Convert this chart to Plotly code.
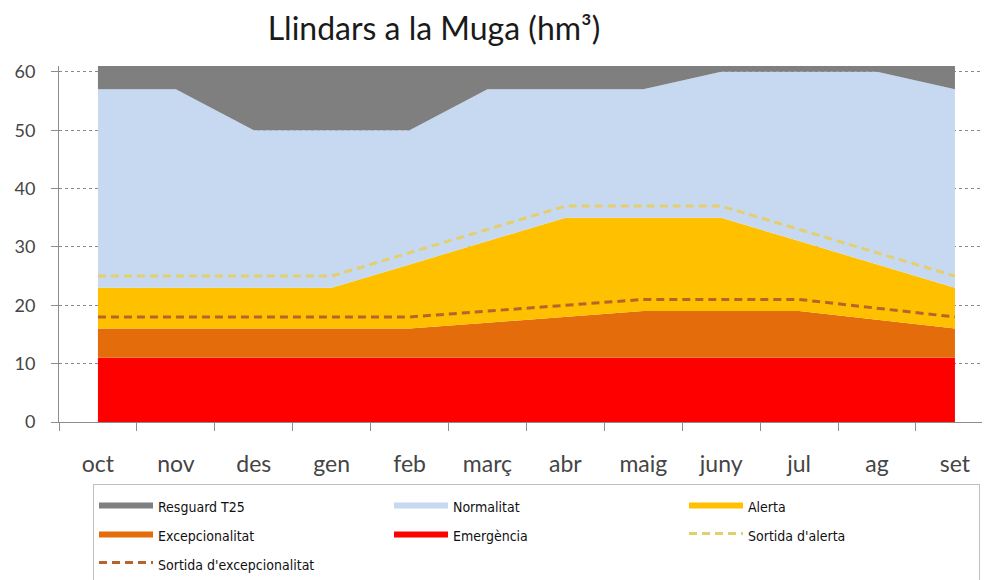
import plotly.graph_objects as go

categories = ['oct', 'nov', 'des', 'gen', 'feb', 'març', 'abr', 'maig', 'juny', 'jul', 'ag', 'set']
emergencia_top = [11, 11, 11, 11, 11, 11, 11, 11, 11, 11, 11, 11]
excepcionalitat_top = [16, 16, 16, 16, 16, 17, 18, 19, 19, 19, 17.5, 16]
alerta_top = [23, 23, 23, 23, 27, 31, 35, 35, 35, 31, 27, 23]
normalitat_top = [57, 57, 50, 50, 50, 57, 57, 57, 60, 60, 60, 57]
resguard_top = [61, 61, 61, 61, 61, 61, 61, 61, 61, 61, 61, 61]
sortida_alerta = [25, 25, 25, 25, 29, 33, 37, 37, 37, 33, 29, 25]
sortida_excepcionalitat = [18, 18, 18, 18, 18, 19, 20, 21, 21, 21, 19.5, 18]
y_ticks = [0, 10, 20, 30, 40, 50, 60]

LEG_SPAN = '<span style="font-size:14px">{}</span>'

fig = go.Figure()

areas = [
    ("Emergència", emergencia_top, "#ff0000", 5, "tozeroy"),
    ("Excepcionalitat", excepcionalitat_top, "#e46c0a", 4, "tonexty"),
    ("Alerta", alerta_top, "#ffc000", 3, "tonexty"),
    ("Normalitat", normalitat_top, "#c6d9f1", 2, "tonexty"),
    ("Resguard T25", resguard_top, "#7f7f7f", 1, "tonexty"),
]
for name, vals, color, rank, fill in areas:
    fig.add_trace(go.Scatter(
        x=categories, y=vals, name=LEG_SPAN.format(name), mode="lines", fill=fill,
        fillcolor=color, line=dict(width=0, color=color),
        legendrank=rank, hoverinfo="skip"))

fig.add_trace(go.Scatter(
    x=categories, y=sortida_alerta, name=LEG_SPAN.format("Sortida d'alerta"), mode="lines",
    line=dict(color="#e3cf6e", width=3, dash="8px,5px"), legendrank=6, hoverinfo="skip"))
fig.add_trace(go.Scatter(
    x=categories, y=sortida_excepcionalitat, name=LEG_SPAN.format("Sortida d'excepcionalitat"),
    mode="lines", line=dict(color="#b5652c", width=3, dash="8px,5px"), legendrank=7,
    hoverinfo="skip"))

# page body has an 8px default margin, compensate in figure margins
fig.update_layout(
    width=990, height=580,
    margin=dict(l=51, r=8, t=58, b=166, autoexpand=False),
    paper_bgcolor="white", plot_bgcolor="white",
    title=dict(text="Llindars a la Muga (hm³)", x=426 / 990, xref="container",
               xanchor="center", y=1 - 21 / 580, yref="container", yanchor="middle",
               font=dict(family="Lato, Open Sans, sans-serif", size=32, color="#1a1a1a")),
    showlegend=True,
    legend=dict(orientation="h", x=(93 - 59) / 931, xanchor="left", y=-62 / 356, yanchor="top",
                entrywidth=226, entrywidthmode="pixels", bgcolor="white",
                bordercolor="#bfbfbf", borderwidth=1, itemwidth=54,
                font=dict(family="DejaVu Sans Condensed, Roboto, sans-serif", size=20,
                          color="#111111"),
                traceorder="normal"),
    xaxis=dict(type="category", range=[-0.5, 11.45], showgrid=False,
               showline=True, linecolor="#8c8c8c", linewidth=1,
               ticks="outside", tickson="boundaries", ticklen=8, tickcolor="#8c8c8c",
               ticklabelstandoff=21,
               tickfont=dict(family="Lato, Open Sans, sans-serif", size=23, color="#454545")),
    yaxis=dict(range=[0, 61], tickvals=y_ticks, showgrid=True, gridcolor="#8a8a8a",
               griddash="dot", gridwidth=1, zeroline=False,
               showline=True, linecolor="#8c8c8c", linewidth=1,
               ticks="outside", ticklen=7, tickcolor="#8c8c8c", ticklabelstandoff=12,
               tickfont=dict(family="Lato, Open Sans, sans-serif", size=18, color="#454545")),
)

fig.write_html("out.html")
